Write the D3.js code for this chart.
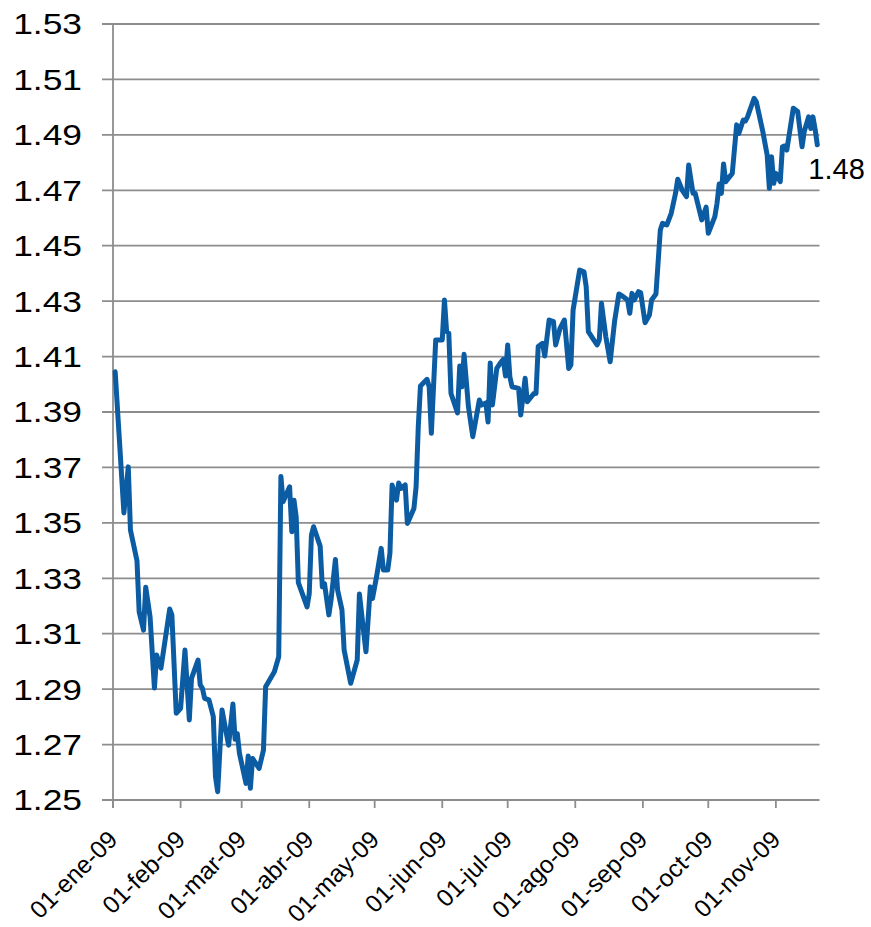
<!DOCTYPE html>
<html><head><meta charset="utf-8">
<script src="https://cdn.jsdelivr.net/npm/d3@7"></script>
<style>
html,body{margin:0;padding:0;background:#fff;}
svg{display:block;font-family:"Liberation Sans",Arial,sans-serif;}
</style></head>
<body>
<svg id="chart" width="871" height="927"></svg>
<script>
const dates = ["2009-01-02","2009-01-06","2009-01-08","2009-01-09","2009-01-12","2009-01-13","2009-01-15","2009-01-16","2009-01-18","2009-01-20",
"2009-01-21","2009-01-23","2009-01-27","2009-01-28","2009-01-30","2009-02-01","2009-02-03","2009-02-05","2009-02-06","2009-02-09",
"2009-02-10","2009-02-11","2009-02-12","2009-02-14","2009-02-16","2009-02-17","2009-02-18","2009-02-20","2009-02-23","2009-02-25",
"2009-02-26","2009-02-27","2009-02-28","2009-03-03","2009-03-04","2009-03-05","2009-03-06","2009-03-09","2009-03-11","2009-03-12",
"2009-03-16","2009-03-18","2009-03-19","2009-03-20","2009-03-23","2009-03-24","2009-03-25","2009-03-26","2009-03-27","2009-03-31",
"2009-04-01","2009-04-02","2009-04-03","2009-04-06","2009-04-07","2009-04-08","2009-04-10","2009-04-11","2009-04-13","2009-04-14",
"2009-04-16","2009-04-17","2009-04-20","2009-04-23","2009-04-24","2009-04-27","2009-04-29","2009-04-30","2009-05-02","2009-05-04",
"2009-05-05","2009-05-07","2009-05-08","2009-05-09","2009-05-11","2009-05-12","2009-05-13","2009-05-15","2009-05-16","2009-05-19",
"2009-05-20","2009-05-21","2009-05-22","2009-05-25","2009-05-26","2009-05-27","2009-05-29","2009-06-01","2009-06-02","2009-06-03",
"2009-06-04","2009-06-05","2009-06-08","2009-06-09","2009-06-10","2009-06-11","2009-06-13","2009-06-15","2009-06-18","2009-06-19",
"2009-06-21","2009-06-22","2009-06-23","2009-06-24","2009-06-26","2009-06-28","2009-06-29","2009-06-30","2009-07-01","2009-07-02",
"2009-07-03","2009-07-06","2009-07-07","2009-07-09","2009-07-10","2009-07-13","2009-07-14","2009-07-15","2009-07-17","2009-07-18",
"2009-07-20","2009-07-22","2009-07-23","2009-07-25","2009-07-27","2009-07-29","2009-07-30","2009-07-31","2009-08-03","2009-08-05",
"2009-08-06","2009-08-07","2009-08-09","2009-08-11","2009-08-12","2009-08-13","2009-08-15","2009-08-17","2009-08-19","2009-08-21",
"2009-08-23","2009-08-25","2009-08-26","2009-08-27","2009-08-28","2009-08-30","2009-08-31","2009-09-02","2009-09-04","2009-09-05",
"2009-09-07","2009-09-09","2009-09-10","2009-09-12","2009-09-14","2009-09-16","2009-09-17","2009-09-19","2009-09-21","2009-09-22",
"2009-09-24","2009-09-25","2009-09-28","2009-09-30","2009-10-01","2009-10-04","2009-10-05","2009-10-06","2009-10-07","2009-10-08",
"2009-10-09","2009-10-12","2009-10-14","2009-10-15","2009-10-17","2009-10-18","2009-10-19","2009-10-22","2009-10-23","2009-10-26",
"2009-10-28","2009-10-29","2009-10-30","2009-10-31","2009-11-01","2009-11-03","2009-11-04","2009-11-05","2009-11-06","2009-11-09",
"2009-11-11","2009-11-13","2009-11-14","2009-11-16","2009-11-17","2009-11-18","2009-11-19","2009-11-20"];

const values = [1.4045,1.3536,1.3702,1.3474,1.3363,1.3179,1.3113,1.3268,1.3161,1.2904,
1.3023,1.2976,1.3189,1.3168,1.2813,1.2831,1.3041,1.2789,1.2939,1.3005,
1.2915,1.2903,1.2867,1.2861,1.2801,1.2584,1.2530,1.2825,1.2698,1.2846,
1.2719,1.2740,1.2668,1.2560,1.2659,1.2542,1.2650,1.2614,1.2680,1.2909,
1.2963,1.3017,1.3667,1.3576,1.3630,1.3468,1.3582,1.3522,1.3284,1.3197,
1.3245,1.3456,1.3486,1.3416,1.3269,1.3281,1.3168,1.3222,1.3368,1.3258,
1.3186,1.3041,1.2921,1.3005,1.3243,1.3035,1.3269,1.3227,1.3312,1.3408,
1.3330,1.3330,1.3391,1.3637,1.3582,1.3644,1.3624,1.3637,1.3498,1.3552,
1.3630,1.3847,1.3994,1.4018,1.3991,1.3823,1.4160,1.4160,1.4304,1.4190,
1.4184,1.3967,1.3897,1.4066,1.3991,1.4108,1.3919,1.3811,1.3943,1.3925,
1.3933,1.3864,1.4077,1.3925,1.4057,1.4081,1.4090,1.4030,1.4142,1.4027,
1.3991,1.3985,1.3889,1.4022,1.3937,1.3967,1.3967,1.4136,1.4148,1.4102,
1.4232,1.4226,1.4142,1.4202,1.4232,1.4057,1.4070,1.4268,1.4412,1.4406,
1.4352,1.4190,1.4166,1.4142,1.4160,1.4292,1.4172,1.4081,1.4226,1.4326,
1.4316,1.4304,1.4256,1.4328,1.4304,1.4334,1.4330,1.4222,1.4250,1.4304,
1.4326,1.4557,1.4581,1.4575,1.4617,1.4690,1.4740,1.4701,1.4677,1.4791,
1.4689,1.4689,1.4593,1.4639,1.4545,1.4605,1.4653,1.4723,1.4689,1.4795,
1.4731,1.4761,1.4936,1.4905,1.4953,1.4950,1.4965,1.5032,1.5020,1.4912,
1.4827,1.4707,1.4821,1.4725,1.4761,1.4731,1.4857,1.4860,1.4845,1.4996,
1.4984,1.4857,1.4912,1.4965,1.4923,1.4965,1.4920,1.4864];

const yTicks = [1.25,1.27,1.29,1.31,1.33,1.35,1.37,1.39,1.41,1.43,1.45,1.47,1.49,1.51,1.53];
const xTickDates = ["2009-01-01","2009-02-01","2009-03-01","2009-04-01","2009-05-01","2009-06-01","2009-07-01","2009-08-01","2009-09-01","2009-10-01","2009-11-01"];
const xTickLabels = ["01-ene-09","01-feb-09","01-mar-09","01-abr-09","01-may-09","01-jun-09","01-jul-09","01-ago-09","01-sep-09","01-oct-09","01-nov-09"];
const axisRange = ["2009-01-01","2009-11-21"];
const lastLabel = "1.48";

const parse = d3.utcParse("%Y-%m-%d");
const data = dates.map((d,i)=>({date:parse(d), value:values[i]}));

const svg = d3.select("#chart");
const L = 113, R = 819.5, T = 24, B = 800;
const x = d3.scaleUtc().domain(axisRange.map(parse)).range([L, R]);
const y = d3.scaleLinear().domain([1.25, 1.53]).range([B, T]);

const gridColor = "#8d8d8d";

// horizontal gridlines with left tick extension
svg.append("g").selectAll("line").data(yTicks).join("line")
  .attr("x1", L - 11).attr("x2", R)
  .attr("y1", d => y(d)).attr("y2", d => y(d))
  .attr("stroke", gridColor).attr("stroke-width", 1.8);

// y axis line
svg.append("line").attr("x1", L).attr("x2", L).attr("y1", T).attr("y2", B + 8)
  .attr("stroke", gridColor).attr("stroke-width", 1.8);

// y labels
svg.append("g").selectAll("text").data(yTicks).join("text")
  .attr("transform", d => `translate(82,${y(d)}) scale(1.22,1)`)
  .attr("text-anchor", "end").attr("dy", "0.36em")
  .attr("font-size", 29).attr("fill", "#000")
  .text(d => d3.format(".2f")(d));

// x ticks
const xt = xTickDates.map(parse);
svg.append("g").selectAll("line").data(xt).join("line")
  .attr("x1", d => x(d)).attr("x2", d => x(d))
  .attr("y1", B).attr("y2", B + 8)
  .attr("stroke", gridColor).attr("stroke-width", 1.8);

// x labels
svg.append("g").selectAll("text").data(xt).join("text")
  .attr("transform", d => `translate(${x(d) + 6},841) rotate(-45)`)
  .attr("text-anchor", "end")
  .attr("font-size", 24.5).attr("fill", "#000")
  .text((d,i) => xTickLabels[i]);

// line
svg.append("path").datum(data)
  .attr("fill", "none").attr("stroke", "#0B5CA3").attr("stroke-width", 5)
  .attr("stroke-linejoin", "round").attr("stroke-linecap", "round")
  .attr("d", d3.line().x(d => x(d.date)).y(d => y(d.value)));

// last value label
const last = data[data.length - 1];
svg.append("text")
  .attr("x", x(last.date) - 9).attr("y", y(last.value) + 34)
  .attr("font-size", 29).attr("fill", "#000")
  .text(lastLabel);
</script>
</body></html>
